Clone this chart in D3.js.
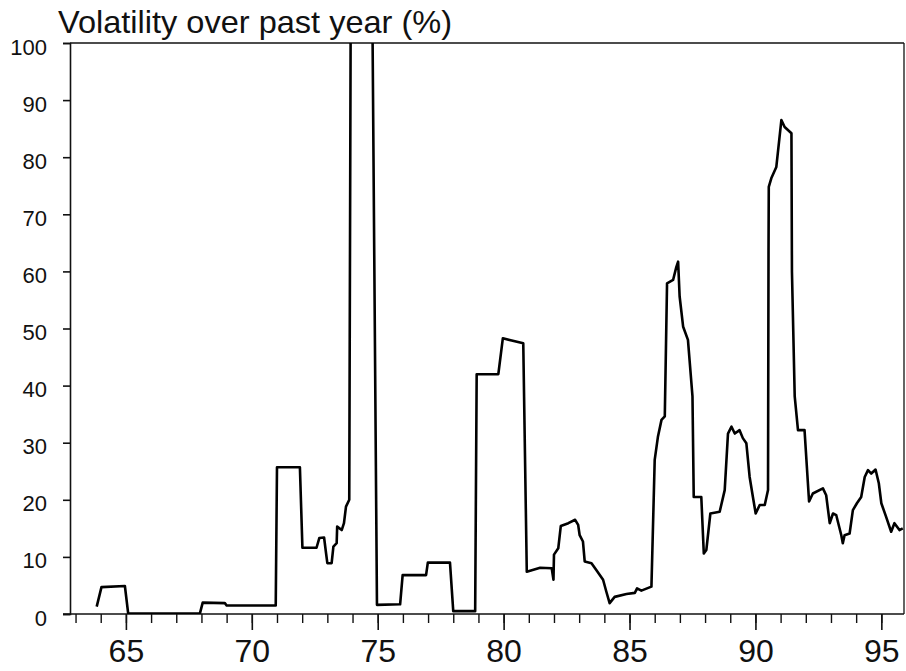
<!DOCTYPE html>
<meta charset="utf-8">
<head>
  <script src="https://cdn.jsdelivr.net/npm/d3@7"></script>
  <style>
    body { margin: 0; background: #fff; }
    text { font-family: "Liberation Sans", Arial, sans-serif; fill: #111; }
  </style>
</head>
<body>

<script type="text/javascript">

// datos: año (19xx) y volatilidad (%)
var years = [63.84, 64.03, 64.96, 65.09, 67.94, 68.05, 68.93, 69.0, 70.95, 71.0,
  71.91, 72.01, 72.57, 72.68, 72.87, 72.95, 73.0, 73.17, 73.24, 73.37,
  73.39, 73.57, 73.66, 73.74, 73.87, 73.93, 74.3, 74.78, 74.97, 75.89,
  75.99, 76.92, 76.99, 77.87, 78.0, 78.87, 78.93, 79.79, 79.97, 80.32,
  80.78, 80.92, 81.45, 81.91, 81.98, 82.0, 82.17, 82.27, 82.57, 82.84,
  82.96, 83.02, 83.15, 83.22, 83.49, 83.68, 83.95, 84.08, 84.21, 84.41,
  84.88, 85.21, 85.3, 85.47, 85.87, 86.0, 86.13, 86.27, 86.4, 86.49,
  86.73, 86.86, 86.93, 86.99, 87.13, 87.32, 87.5, 87.55, 87.85, 87.95,
  88.05, 88.21, 88.58, 88.78, 88.91, 89.05, 89.18, 89.37, 89.5, 89.64,
  89.77, 89.9, 90.01, 90.17, 90.37, 90.5, 90.52, 90.53, 90.63, 90.83,
  91.03, 91.16, 91.43, 91.45, 91.56, 91.69, 91.95, 92.13, 92.28, 92.68,
  92.81, 92.95, 93.08, 93.21, 93.41, 93.47, 93.54, 93.74, 93.87, 94.03,
  94.2, 94.34, 94.47, 94.6, 94.77, 94.9, 95.0, 95.19, 95.39, 95.52,
  95.72, 95.85];

var vols = [1.3, 4.7, 4.9, 0.1, 0.1, 2.0, 1.9, 1.5, 1.5, 25.7,
  25.7, 11.6, 11.6, 13.3, 13.4, 10.6, 8.9, 8.9, 11.8, 12.4,
  15.3, 14.7, 15.9, 18.8, 20.0, 110, 140, 110, 1.6, 1.7,
  6.8, 6.8, 9.0, 9.0, 0.5, 0.5, 42.0, 42.0, 48.3, 47.9,
  47.4, 7.4, 8.1, 8.0, 6.0, 10.4, 11.5, 15.4, 15.9, 16.5,
  15.6, 13.8, 12.7, 9.2, 8.9, 7.7, 6.0, 3.9, 1.9, 3.0,
  3.5, 3.7, 4.5, 4.1, 4.8, 27.0, 31.1, 34.0, 34.6, 57.9,
  58.5, 60.8, 61.7, 55.6, 50.3, 48.0, 38.1, 20.5, 20.5, 10.6,
  11.2, 17.6, 17.9, 21.7, 31.6, 32.8, 31.6, 32.2, 30.8, 29.9,
  24.0, 20.5, 17.6, 19.1, 19.1, 21.7, 63.7, 74.8, 76.3, 78.3,
  86.5, 85.3, 84.2, 60.0, 38.1, 32.2, 32.2, 19.7, 21.1, 22.0,
  20.8, 15.9, 17.6, 17.3, 13.8, 12.4, 13.8, 14.1, 18.2, 19.4,
  20.5, 24.0, 25.2, 24.6, 25.3, 22.9, 19.4, 17.0, 14.4, 15.9,
  14.7, 15.0];

var yTicks = [0, 10, 20, 30, 40, 50, 60, 70, 80, 90, 100];
var xLabels = [65, 70, 75, 80, 85, 90, 95];
var xMinor = d3.range(63, 96);
var titulo = "Volatility over past year (%)";

var w = 906;
var h = 671;
var mIzq = 70, mDer = 904, mSup = 43, mInf = 614;

var svg = d3.select("body").append("svg")
    .attr("width", w)
    .attr("height", h);

var x = d3.scaleLinear().domain([62.78, 95.9]).range([mIzq, mDer]);
var y = d3.scaleLinear().domain([0, 100]).range([mInf, mSup]);

var datos = years.map(function(d, i) { return [d, vols[i]]; });

svg.append("clipPath").attr("id", "recorte")
  .append("rect")
    .attr("x", mIzq).attr("y", mSup)
    .attr("width", mDer - mIzq).attr("height", mInf - mSup);

// marco
svg.append("line").attr("x1", mIzq).attr("x2", mDer).attr("y1", mSup).attr("y2", mSup)
  .attr("stroke", "#111").attr("stroke-width", 1.3);
svg.append("line").attr("x1", mDer).attr("x2", mDer).attr("y1", mSup).attr("y2", mInf)
  .attr("stroke", "#111").attr("stroke-width", 1.3);

// eje y
var ejeY = svg.append("g")
    .attr("transform", "translate(" + mIzq + ",0)")
    .call(d3.axisLeft(y).tickValues(yTicks).tickSize(7).tickPadding(16));
ejeY.select(".domain").attr("stroke", "#111").attr("stroke-width", 1.6);
ejeY.selectAll(".tick line").attr("stroke", "#111").attr("stroke-width", 1.6);
ejeY.selectAll(".tick text")
    .attr("font-size", 22)
    .attr("font-family", "Liberation Sans, Arial, sans-serif")
    .attr("fill", "#111")
    .attr("dy", "0.5em");

// eje x: marcas menores cada año, mayores cada 5
var ejeX = svg.append("g")
    .attr("transform", "translate(0," + mInf + ")")
    .call(d3.axisBottom(x).tickValues(xMinor).tickSize(9).tickFormat(""));
ejeX.select(".domain").remove();
ejeX.selectAll(".tick line").attr("stroke", "#111").attr("stroke-width", 1.4);

var ejeX2 = svg.append("g")
    .attr("transform", "translate(0," + mInf + ")")
    .call(d3.axisBottom(x).tickValues(xLabels).tickSize(16).tickPadding(9)
      .tickFormat(function(d) { return d; }));
ejeX2.select(".domain").remove();
ejeX2.selectAll(".tick line").attr("stroke", "#111").attr("stroke-width", 1.6);
ejeX2.selectAll(".tick text")
    .attr("font-size", 32)
    .attr("font-family", "Liberation Sans, Arial, sans-serif")
    .attr("fill", "#111");

svg.append("line").attr("x1", mIzq - 7).attr("x2", mDer).attr("y1", mInf).attr("y2", mInf)
  .attr("stroke", "#111").attr("stroke-width", 1.6);

// serie
var linea = d3.line()
    .x(function(d) { return x(d[0]); })
    .y(function(d) { return y(d[1]); });

svg.append("path")
    .datum(datos)
    .attr("clip-path", "url(#recorte)")
    .attr("d", linea)
    .attr("fill", "none")
    .attr("stroke", "#000")
    .attr("stroke-width", 2.6)
    .attr("stroke-linejoin", "round");

svg.append("text")
    .attr("x", 58)
    .attr("y", 33)
    .attr("font-size", 32)
    .attr("textLength", 394)
    .attr("lengthAdjust", "spacingAndGlyphs")
    .text(titulo);

</script>

</body>
